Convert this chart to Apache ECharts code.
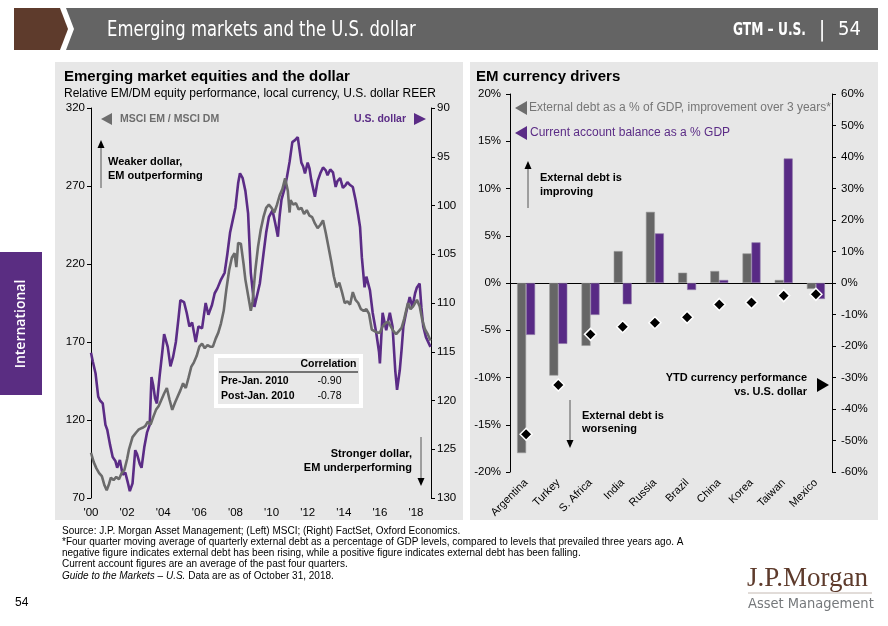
<!DOCTYPE html>
<html><head><meta charset="utf-8">
<script src="https://cdn.jsdelivr.net/npm/echarts@6/dist/echarts.min.js"></script>
<style>html,body{margin:0;padding:0;background:#fff}#c{width:888px;height:626px}</style>
</head><body><div id="c"></div>
<script>
// ---------- Left chart data ----------
const emDmYears = [2000.00,2000.15,2000.30,2000.45,2000.60,2000.75,2000.87,2001.00,2001.10,2001.25,2001.40,2001.55,2001.70,2001.85,2002.00,2002.10,2002.30,2002.50,2002.65,2002.85,2003.00,2003.15,2003.30,2003.45,2003.60,2003.75,2003.90,2004.05,2004.20,2004.35,2004.50,2004.65,2004.80,2004.95,2005.10,2005.25,2005.40,2005.55,2005.70,2005.85,2006.00,2006.15,2006.30,2006.45,2006.60,2006.75,2006.90,2007.05,2007.20,2007.35,2007.50,2007.65,2007.80,2007.95,2008.05,2008.15,2008.30,2008.45,2008.55,2008.70,2008.85,2008.95,2009.10,2009.25,2009.40,2009.55,2009.70,2009.85,2010.00,2010.15,2010.30,2010.45,2010.60,2010.75,2010.90,2011.00,2011.05,2011.20,2011.35,2011.50,2011.65,2011.80,2011.95,2012.10,2012.25,2012.40,2012.55,2012.70,2012.85,2013.00,2013.15,2013.30,2013.45,2013.60,2013.75,2013.90,2014.05,2014.20,2014.35,2014.50,2014.65,2014.80,2014.95,2015.10,2015.25,2015.40,2015.55,2015.70,2015.85,2016.00,2016.15,2016.30,2016.45,2016.60,2016.75,2016.90,2017.05,2017.20,2017.35,2017.55,2017.70,2017.85,2018.05,2018.20,2018.35,2018.50,2018.65,2018.80];
const emDmValues = [99,93,89,86,84,78,75,79,83,81.5,83.5,82,86,88,95,101,109,112,114,115,116,119,117,122,126.5,129,133,137,140.5,133,126.5,131,135,139,143.5,140.5,147,154,157,161,167,169,166,168,167,167,172,176,182,190,204,216,224,227,218,233.5,233,220,210,200,190,196,216,231,242,250,256,258,256,253,258,264,268,275,267,253,261,258,259,255,256,252,254.5,251,250,246,243,245,248,240,231,222,212,205,208,202,195,196,194,202,197,195,191,190,191,188,178,177,176,176,180,182,183,180,177,175,177,179,185,195,191,193,197,193,184,178,175,171];

const usdYears = [2000.00,2000.10,2000.25,2000.40,2000.50,2000.65,2000.80,2000.90,2001.05,2001.20,2001.35,2001.45,2001.60,2001.75,2001.90,2002.05,2002.15,2002.30,2002.45,2002.55,2002.70,2002.80,2002.95,2003.10,2003.25,2003.35,2003.45,2003.55,2003.65,2003.80,2003.95,2004.05,2004.15,2004.25,2004.40,2004.55,2004.70,2004.85,2004.95,2005.15,2005.30,2005.45,2005.60,2005.80,2005.95,2006.15,2006.35,2006.50,2006.70,2006.85,2007.00,2007.20,2007.40,2007.55,2007.70,2007.85,2008.00,2008.15,2008.25,2008.40,2008.55,2008.70,2008.85,2009.05,2009.15,2009.35,2009.55,2009.70,2009.85,2010.05,2010.20,2010.35,2010.45,2010.55,2010.70,2010.85,2011.00,2011.15,2011.30,2011.45,2011.55,2011.65,2011.75,2011.85,2012.00,2012.10,2012.20,2012.40,2012.55,2012.70,2012.85,2013.00,2013.10,2013.25,2013.40,2013.55,2013.65,2013.80,2013.95,2014.10,2014.20,2014.35,2014.50,2014.65,2014.80,2014.90,2015.00,2015.15,2015.25,2015.45,2015.60,2015.80,2015.95,2016.00,2016.15,2016.35,2016.55,2016.70,2016.85,2016.95,2017.10,2017.20,2017.30,2017.45,2017.65,2017.80,2017.95,2018.05,2018.20,2018.30,2018.40,2018.55,2018.80];
const usdValues = [115.1,116.0,117.2,119.6,120.0,120.3,122.5,123.0,124.5,125.8,126.2,126.9,126.1,127.6,127.4,128.5,129.3,128.5,125.1,125.5,126.5,126.9,124.8,123.3,122.5,117.6,118.5,119.8,120.3,117.5,115.0,113.2,113.0,114.5,116.5,115.5,114.0,111.5,109.7,109.9,111.0,112.4,112.0,114.0,112.4,112.6,110.0,111.2,110.2,109.0,108.5,107.6,106.9,105.0,102.8,101.5,100.2,97.7,96.7,97.2,98.5,100.8,106.9,110.4,110.6,108.0,105.0,102.8,101.2,100.5,101.8,103.2,101.0,99.4,98.4,97.1,95.5,93.5,93.3,93.0,92.8,95.6,96.0,96.7,95.6,96.2,97.4,99.1,97.5,96.7,96.1,96.4,96.9,96.3,96.6,98.1,97.5,97.2,98.2,97.9,97.6,97.9,98.1,99.4,101.0,102.2,105.3,108.4,107.3,108.7,111.0,113.1,115.0,116.2,111.0,112.8,111.0,112.4,116.9,118.9,116.9,114.8,112.4,111.0,109.4,110.4,109.0,108.4,108.0,110.5,112.4,113.5,114.5];

const xTickYears = [2000,2002,2004,2006,2008,2010,2012,2014,2016,2018];
const xTickLabels = ["'00","'02","'04","'06","'08","'10","'12","'14","'16","'18"];

// ---------- Right chart data ----------
const countries = ['Argentina','Turkey','S. Africa','India','Russia','Brazil','China','Korea','Taiwan','Mexico'];
const externalDebt = [-18.0,-9.8,-6.65,3.38,7.53,1.09,1.27,3.13,0.32,-0.63];
const currentAccount = [-5.49,-6.44,-3.38,-2.25,5.25,-0.74,0.32,4.3,13.17,-1.69];
const ytdCurrency = [-48.0,-32.4,-16.3,-13.9,-12.6,-10.9,-6.8,-6.2,-4.0,-3.6];

const corrRows = ['Pre-Jan. 2010','Post-Jan. 2010'];
const corrValues = ['-0.90','-0.78'];

// ---------- styling ----------
const F = 'Liberation Sans, Arial, sans-serif';
const PURPLE = '#5b2c86';
const GREY = '#6b6b6b';
const PANEL = '#e7e7e7';

function zip(a,b){return a.map((v,i)=>[v,b[i]]);}
function txt(x,y,text,o){
  o=o||{};
  return {type:'text',x:x,y:y,z:o.z||50,rotation:o.rot||0,scaleX:o.sx||1,
    style:{text:text,fill:o.color||'#000',font:(o.italic?'italic ':'')+(o.weight||'normal')+' '+(o.size||11)+'px '+(o.family||F),
      textAlign:o.align||'left',textVerticalAlign:'middle',rich:o.rich}};
}
function poly(points,fill,z){return {type:'polygon',z:z||50,shape:{points:points},style:{fill:fill}};}
function line(x1,y1,x2,y2,stroke,w,z){return {type:'line',z:z||50,shape:{x1:x1,y1:y1,x2:x2,y2:y2},style:{stroke:stroke,lineWidth:w||1}};}

const graphics = [
  // header
  poly([[14,8],[60,8],[68,29],[60,50],[14,50]],'#5e3b2c',1),
  poly([[66,8],[878,8],[878,50],[66,50],[74,29]],'#646464',1),
  txt(107,30,'Emerging markets and the U.S. dollar',{color:'#fff',size:22,family:'DejaVu Sans Condensed, sans-serif',sx:0.83}),
  txt(733,31,'GTM – U.S.',{color:'#fff',size:17,weight:'bold',family:'DejaVu Sans Condensed, sans-serif',sx:0.8}),
  txt(822,30,'|',{color:'#fff',size:22,family:'DejaVu Sans Condensed, sans-serif',align:'center'}),
  txt(838,30,'54',{color:'#fff',size:20,family:'DejaVu Sans Condensed, sans-serif'}),
  // panels
  {type:'rect',z:0,shape:{x:55,y:62,width:408,height:458},style:{fill:PANEL}},
  {type:'rect',z:0,shape:{x:470,y:62,width:408,height:458},style:{fill:PANEL}},
  // sidebar
  {type:'rect',z:1,shape:{x:0,y:252,width:42,height:143},style:{fill:'#5a2d82'}},
  txt(21,324,'International',{color:'#fff',size:14,weight:'600',family:'Open Sans, sans-serif',align:'center',rot:Math.PI/2}),
  // left titles
  txt(64,77,'Emerging market equities and the dollar',{size:15,weight:'bold'}),
  txt(64,94,'Relative EM/DM equity performance, local currency, U.S. dollar REER',{size:12}),
  // left legend
  poly([[101,119],[112,113],[112,125]],'#6d6d6d'),
  txt(120,119,'MSCI EM / MSCI DM',{size:10.5,weight:'bold',color:'#6d6d6d'}),
  txt(406,119,'U.S. dollar',{size:10.5,weight:'bold',color:PURPLE,align:'right'}),
  poly([[414,113],[426,119],[414,125]],PURPLE),
  // left arrows
  line(101,188,101,147,'#555',1),
  poly([[101,140],[97.5,148],[104.5,148]],'#000'),
  txt(108,162,'Weaker dollar,',{size:11,weight:'bold'}),
  txt(108,176,'EM outperforming',{size:11,weight:'bold'}),
  line(421,437,421,479,'#555',1),
  poly([[421,486],[417.5,478],[424.5,478]],'#000'),
  txt(412,454,'Stronger dollar,',{size:11,weight:'bold',align:'right'}),
  txt(412,468,'EM underperforming',{size:11,weight:'bold',align:'right'}),
  // correlation table
  {type:'rect',z:40,shape:{x:216,y:356,width:145,height:50},style:{fill:'#e8e8e8',stroke:'#fff',lineWidth:4}},
  txt(328.5,364,'Correlation',{size:10.5,weight:'bold',align:'center'}),
  line(219,372,358,372,'#000',1),
  txt(221,381,corrRows[0],{size:10.5,weight:'bold'}),
  txt(329.5,381,corrValues[0],{size:10.5,align:'center'}),
  txt(221,396,corrRows[1],{size:10.5,weight:'bold'}),
  txt(329.5,396,corrValues[1],{size:10.5,align:'center'}),
  // right title & legend
  txt(476,77,'EM currency drivers',{size:15,weight:'bold'}),
  poly([[515,108],[527,101],[527,115]],'#6d6d6d'),
  txt(529,108,'External debt as a % of GDP, improvement over 3 years*',{size:12,color:'#767676'}),
  poly([[515,133],[527,126],[527,140]],PURPLE),
  txt(530,133,'Current account balance as a % GDP',{size:12,color:PURPLE}),
  // right arrows
  line(528,208,528,168,'#555',1),
  poly([[528,161],[524.5,169],[531.5,169]],'#000'),
  txt(540,178,'External debt is',{size:11,weight:'bold'}),
  txt(540,192,'improving',{size:11,weight:'bold'}),
  line(570,400,570,441,'#555',1),
  poly([[570,448],[566.5,440],[573.5,440]],'#000'),
  txt(582,416,'External debt is',{size:11,weight:'bold'}),
  txt(582,429,'worsening',{size:11,weight:'bold'}),
  txt(807,378,'YTD currency performance',{size:11,weight:'bold',align:'right'}),
  txt(807,392,'vs. U.S. dollar',{size:11,weight:'bold',align:'right'}),
  poly([[817,378],[829,385],[817,392]],'#000'),
  // footer
  txt(62,531,'Source: J.P. Morgan Asset Management; (Left) MSCI; (Right) FactSet, Oxford Economics.',{size:10}),
  txt(62,542,'*Four quarter moving average of quarterly external debt as a percentage of GDP levels, compared to levels that prevailed three years ago. A',{size:10}),
  txt(62,553,'negative figure indicates external debt has been rising, while a positive figure indicates external debt has been falling.',{size:10}),
  txt(62,564,'Current account figures are an average of the past four quarters.',{size:10}),
  {type:'text',x:62,y:576,z:50,style:{text:'{i|Guide to the Markets – U.S.} Data are as of October 31, 2018.',font:'10px '+F,fill:'#000',textVerticalAlign:'middle',
    rich:{i:{fontStyle:'italic',fontSize:10,fontFamily:F}}}},
  txt(15,603,'54',{size:12}),
  // logo
  txt(747,579,'J.P.Morgan',{size:27,family:'Liberation Serif, serif',color:'#5e3b2c'}),
  line(748,593,872,593,'#b5a79e',0.8),
  txt(748,604,'Asset Management',{size:14.5,family:'DejaVu Sans Condensed, sans-serif',color:'#75787b'})
];

const axisLineBlack = {show:true,lineStyle:{color:'#000',width:1}};
const tickOut = {show:true,length:4,lineStyle:{color:'#000'}};

const option = {
  animation:false,
  backgroundColor:'#fff',
  textStyle:{fontFamily:F},
  grid:[
    {left:91,right:457,top:108,bottom:128},
    {left:510,right:56,top:94,bottom:154}
  ],
  xAxis:[
    {type:'value',gridIndex:0,min:2000,max:2018.83,interval:2,
      axisLine:{show:false},axisTick:{show:false},splitLine:{show:false},
      axisLabel:{color:'#000',fontSize:11.5,fontFamily:F,margin:9,
        formatter:function(v){const i=xTickYears.indexOf(Math.round(v*100)/100);return i>=0?xTickLabels[i]:'';}}},
    {type:'category',gridIndex:1,data:countries,position:'bottom',
      axisLine:{show:true,onZero:true,lineStyle:{color:'#000',width:1}},axisTick:{show:false},axisLabel:{show:false},splitLine:{show:false}},
    {type:'category',gridIndex:1,data:countries,position:'bottom',
      axisLine:{show:false,onZero:false},axisTick:{show:false},splitLine:{show:false},
      axisLabel:{rotate:45,color:'#000',fontSize:11,fontFamily:F,margin:9,interval:0}}
  ],
  yAxis:[
    {type:'value',gridIndex:0,min:70,max:320,interval:50,position:'left',
      axisLine:axisLineBlack,axisTick:tickOut,splitLine:{show:false},
      axisLabel:{color:'#000',fontSize:11.5,fontFamily:F,margin:6}},
    {type:'value',gridIndex:0,min:90,max:130,interval:5,position:'right',inverse:true,
      axisLine:axisLineBlack,axisTick:tickOut,splitLine:{show:false},
      axisLabel:{color:'#000',fontSize:11.5,fontFamily:F,margin:6}},
    {type:'value',gridIndex:1,min:-20,max:20,interval:5,position:'left',
      axisLine:axisLineBlack,axisTick:tickOut,splitLine:{show:false},
      axisLabel:{color:'#000',fontSize:11.5,fontFamily:F,margin:9,formatter:'{value}%'}},
    {type:'value',gridIndex:1,min:-60,max:60,interval:10,position:'right',
      axisLine:axisLineBlack,axisTick:tickOut,splitLine:{show:false},
      axisLabel:{color:'#000',fontSize:11.5,fontFamily:F,margin:9,formatter:'{value}%'}}
  ],
  series:[
    {name:'U.S. dollar',type:'line',xAxisIndex:0,yAxisIndex:1,data:zip(usdYears,usdValues),
      showSymbol:false,symbol:'none',lineStyle:{color:PURPLE,width:2.6},itemStyle:{color:PURPLE},z:3},
    {name:'MSCI EM / MSCI DM',type:'line',xAxisIndex:0,yAxisIndex:0,data:zip(emDmYears,emDmValues),
      showSymbol:false,symbol:'none',lineStyle:{color:GREY,width:2.6},itemStyle:{color:GREY},z:4},
    {name:'External debt',type:'bar',xAxisIndex:1,yAxisIndex:2,data:externalDebt,barWidth:9,barGap:'0%',
      itemStyle:{color:'#666666',borderColor:'#9a9a9a',borderWidth:0.6},z:3},
    {name:'Current account',type:'bar',xAxisIndex:1,yAxisIndex:2,data:currentAccount,barWidth:9,barGap:'0%',
      itemStyle:{color:'#582a85',borderColor:'#8e78a8',borderWidth:0.6},z:3},
    {name:'YTD currency',type:'scatter',xAxisIndex:1,yAxisIndex:3,data:ytdCurrency,symbol:'diamond',symbolSize:12,
      itemStyle:{color:'#000',borderColor:'#fff',borderWidth:1.5,opacity:1},z:6}
  ],
  graphic:{elements:graphics}
};
const chart = echarts.init(document.getElementById('c'),null,{renderer:'canvas'});
chart.setOption(option);
</script></body></html>
